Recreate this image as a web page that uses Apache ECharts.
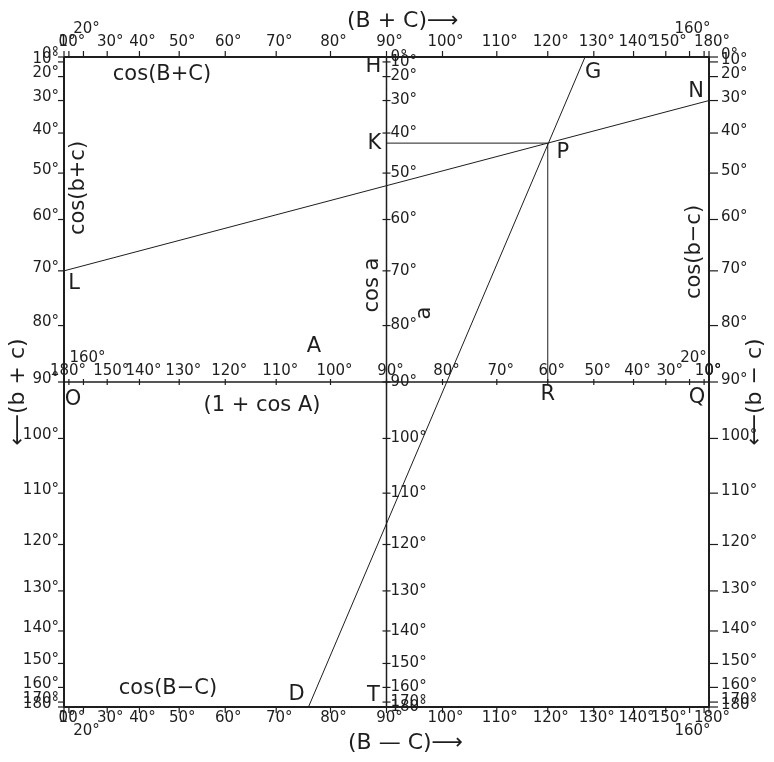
<!DOCTYPE html>
<html>
<head>
<meta charset="utf-8">
<script src="https://cdn.jsdelivr.net/npm/echarts@6/dist/echarts.min.js"></script>
<style>
  html, body { margin: 0; padding: 0; background: #fff; }
  #chart { width: 774px; height: 762px; }
</style>
</head>
<body>
<div id="chart"></div>
<script>
// ---- data ----
// every scale of the nomogram runs 0..180 degrees in steps of 10
const scaleDegrees = [0, 10, 20, 30, 40, 50, 60, 70, 80, 90, 100, 110, 120, 130, 140, 150, 160, 170, 180]
// which ticks carry a printed label on each scale
const topBottomLabels = [0, 10, 20, 30, 40, 50, 60, 70, 80, 90, 100, 110, 120, 130, 140, 150, 160, 180]
const sideLabels = [0, 10, 20, 30, 40, 50, 60, 70, 80, 90, 100, 110, 120, 130, 140, 150, 160, 170, 180]
const centerALabels = [0, 10, 20, 30, 40, 50, 60, 70, 80, 90, 100, 110, 120, 130, 140, 150, 160, 180]
// crowded labels pushed off the line
const staggeredLabels = [20, 160]

// worked example drawn on the chart
const exampleSides = [70, 30]      // L on (b+c), N on (b-c)
const exampleTopBottom = [128, 76] // G on (B+C), D on (B-C)
const exampleA = [60]              // R on A

// ---- helpers ----
const INK = '#1e1e1e'
const FONT = 'DejaVu Sans'
const cosd = d => Math.cos(d * Math.PI / 180)

// line L-N and the point P where A = 60
const ptL = [-1, cosd(exampleSides[0])]
const ptN = [1, cosd(exampleSides[1])]
const ptG = [-cosd(exampleTopBottom[0]), 1]
const ptD = [-cosd(exampleTopBottom[1]), -1]
const xP = cosd(exampleA[0])
const yP = ptL[1] + (ptN[1] - ptL[1]) * (xP - ptL[0]) / (ptN[0] - ptL[0])
const ptP = [xP, yP]

// one custom series per scale: ticks + degree labels
function scaleSeries (name, toXY, labels, tick, lab) {
  return {
    type: 'custom',
    name: name,
    silent: true,
    data: scaleDegrees.map(d => toXY(d).concat(d)),
    renderItem (params, api) {
      const p = api.coord([api.value(0), api.value(1)])
      const d = api.value(2)
      const kids = [{
        type: 'line',
        shape: { x1: p[0] + tick[0], y1: p[1] + tick[1], x2: p[0] + tick[2], y2: p[1] + tick[3] },
        style: { stroke: INK, lineWidth: 1.2 }
      }]
      if (labels.indexOf(d) >= 0) {
        const sh = staggeredLabels.indexOf(d) >= 0 ? (lab.stagger || [0, 0]) : [0, 0]
        kids.push({
          type: 'text',
          style: {
            text: d + '°',
            x: p[0] + lab.dx + sh[0],
            y: p[1] + lab.dy + sh[1],
            align: lab.align,
            verticalAlign: 'middle',
            fontSize: 15,
            fontFamily: FONT,
            fill: INK
          }
        })
      }
      return { type: 'group', children: kids }
    }
  }
}

function lineSeries (data, width) {
  return {
    type: 'line',
    data: data,
    symbol: 'none',
    silent: true,
    lineStyle: { color: INK, width: width }
  }
}

// letters sit next to the points they name
const letterNames = ['L', 'N', 'G', 'D', 'P', 'K', 'R', 'H', 'T', 'O', 'Q']
const letterPoints = [ptL, ptN, ptG, ptD, ptP, [0, yP], [xP, 0], [0, 1], [0, -1], [-1, 0], [1, 0]]
const letterOffset = {
  L: [10, 13], N: [-13, -9], G: [8, 16], D: [-12, -12], P: [15, 9], K: [-12, 0],
  R: [0, 13], H: [-13, 10], T: [-13, -11], O: [9, 18], Q: [-12, 16]
}

const chart = echarts.init(document.getElementById('chart'))

const option = {
  animation: false,
  backgroundColor: '#fff',
  grid: { left: 64, right: 65, top: 57, bottom: 55 },
  xAxis: { type: 'value', min: -1, max: 1, show: false },
  yAxis: { type: 'value', min: -1, max: 1, show: false },
  series: [
    // frame and the two centre lines
    lineSeries([[-1, 1], [1, 1], [1, -1], [-1, -1], [-1, 1]], 2),
    lineSeries([[0, 1], [0, -1]], 1.5),
    lineSeries([[-1, 0], [1, 0]], 1.5),
    // worked example
    lineSeries([ptL, ptN], 1),
    lineSeries([ptG, ptD], 1),
    lineSeries([[0, yP], ptP], 1),
    lineSeries([ptP, [xP, 0]], 1),
    // scales
    scaleSeries('B+C', d => [-cosd(d), 1], topBottomLabels, [0, 0, 0, -6], { align: 'center', dx: 3, dy: -15, stagger: [0, -13] }),
    scaleSeries('B-C', d => [-cosd(d), -1], topBottomLabels, [0, 0, 0, 6], { align: 'center', dx: 3, dy: 11, stagger: [0, 13] }),
    scaleSeries('b+c', d => [-1, cosd(d)], sideLabels, [0, 0, -6, 0], { align: 'right', dx: -5, dy: -3 }),
    scaleSeries('b-c', d => [1, cosd(d)], sideLabels, [0, 0, 9, 0], { align: 'left', dx: 12, dy: -2 }),
    scaleSeries('a', d => [0, cosd(d)], sideLabels, [-4, 0, 4, 0], { align: 'left', dx: 4, dy: 0 }),
    scaleSeries('A', d => [cosd(d), 0], centerALabels, [0, -3, 0, 3], { align: 'center', dx: 4, dy: -11, stagger: [0, -13] }),
    {
      type: 'custom',
      name: 'letters',
      silent: true,
      data: letterPoints,
      renderItem (params, api) {
        const p = api.coord([api.value(0), api.value(1)])
        const n = letterNames[params.dataIndex]
        const off = letterOffset[n]
        return {
          type: 'text',
          style: {
            text: n, x: p[0] + off[0], y: p[1] + off[1],
            align: 'center', verticalAlign: 'middle',
            fontSize: 21, fontFamily: FONT, fill: INK
          }
        }
      }
    }
  ],
  graphic: [
    { type: 'text', x: 347, y: 21, style: { text: '(B + C)⟶', fontSize: 22, fontFamily: FONT, fill: INK, align: 'left', verticalAlign: 'middle' } },
    { type: 'text', x: 348, y: 743, style: { text: '(B — C)⟶', fontSize: 22, fontFamily: FONT, fill: INK, align: 'left', verticalAlign: 'middle' } },
    { type: 'text', x: 162, y: 75, style: { text: 'cos(B+C)', fontSize: 21, fontFamily: FONT, fill: INK, align: 'center', verticalAlign: 'middle' } },
    { type: 'text', x: 168, y: 689, style: { text: 'cos(B−C)', fontSize: 21, fontFamily: FONT, fill: INK, align: 'center', verticalAlign: 'middle' } },
    { type: 'text', x: 262, y: 406, style: { text: '(1 + cos A)', fontSize: 21, fontFamily: FONT, fill: INK, align: 'center', verticalAlign: 'middle' } },
    { type: 'text', x: 314, y: 347, style: { text: 'A', fontSize: 21, fontFamily: FONT, fill: INK, align: 'center', verticalAlign: 'middle' } },
    { type: 'text', x: 79, y: 188, rotation: Math.PI / 2, style: { text: 'cos(b+c)', fontSize: 21, fontFamily: FONT, fill: INK, align: 'center', verticalAlign: 'middle' } },
    { type: 'text', x: 695, y: 252, rotation: Math.PI / 2, style: { text: 'cos(b−c)', fontSize: 21, fontFamily: FONT, fill: INK, align: 'center', verticalAlign: 'middle' } },
    { type: 'text', x: 373, y: 285, rotation: Math.PI / 2, style: { text: 'cos a', fontSize: 21, fontFamily: FONT, fill: INK, align: 'center', verticalAlign: 'middle' } },
    { type: 'text', x: 425, y: 313, rotation: Math.PI / 2, style: { text: 'a', fontSize: 21, fontFamily: FONT, fill: INK, align: 'center', verticalAlign: 'middle' } },
    { type: 'text', x: 18, y: 392, rotation: Math.PI / 2, style: { text: '⟵(b + c)', fontSize: 22, fontFamily: FONT, fill: INK, align: 'center', verticalAlign: 'middle' } },
    { type: 'text', x: 755, y: 392, rotation: Math.PI / 2, style: { text: '⟵(b − c)', fontSize: 22, fontFamily: FONT, fill: INK, align: 'center', verticalAlign: 'middle' } }
  ]
}

chart.setOption(option)
</script>
</body>
</html>
